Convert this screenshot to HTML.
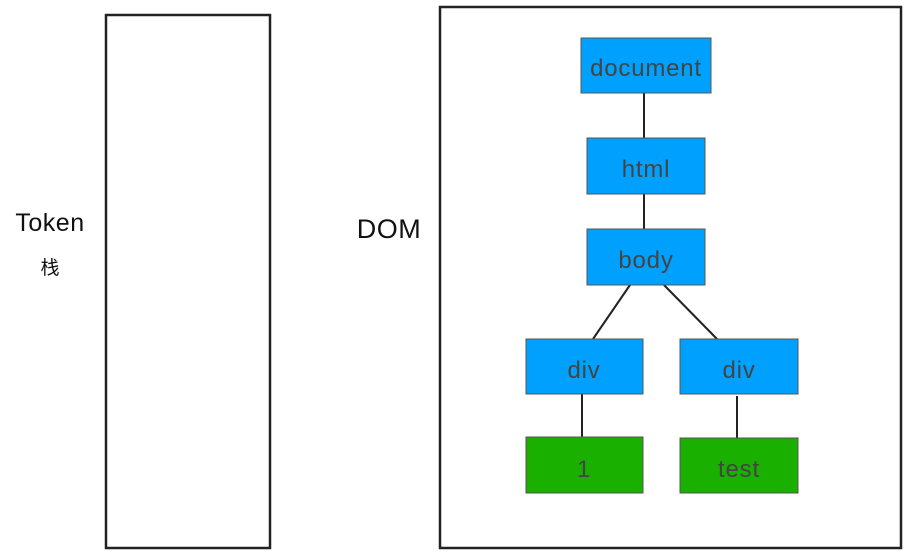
<!DOCTYPE html>
<html><head><meta charset="utf-8"><style>
html,body{margin:0;padding:0;background:#fff;width:915px;height:560px;overflow:hidden}
svg{display:block}
text{font-family:"Comic Sans MS","Liberation Sans","Noto Sans CJK SC",sans-serif}
</style></head><body>
<svg width="915" height="560" viewBox="0 0 915 560" xmlns="http://www.w3.org/2000/svg">
<rect x="106" y="15" width="164" height="533" fill="none" stroke="#222" stroke-width="2.5"/>
<rect x="440" y="7" width="461" height="541" fill="none" stroke="#222" stroke-width="2.5"/>
<text x="50" y="231" font-size="25" fill="#111" text-anchor="middle" letter-spacing="0.5">Token</text>
<text x="50" y="274" font-size="19" fill="#111" text-anchor="middle">栈</text>
<text x="389" y="238" font-size="27" fill="#111" text-anchor="middle" letter-spacing="0.5">DOM</text>
<g stroke="#222" stroke-width="2">
<line x1="644" y1="93" x2="644" y2="138"/>
<line x1="644" y1="194" x2="644" y2="229"/>
<line x1="630" y1="285" x2="593" y2="339"/>
<line x1="664" y1="285" x2="717" y2="339"/>
<line x1="582" y1="394" x2="582" y2="437"/>
<line x1="737" y1="396" x2="737" y2="438"/>
</g>
<g stroke="#555" stroke-width="1">
<rect x="581" y="38" width="130" height="55" fill="#00a0ff"/>
<rect x="587" y="138" width="118" height="56" fill="#00a0ff"/>
<rect x="587" y="229" width="118" height="56" fill="#00a0ff"/>
<rect x="526" y="339" width="117" height="55" fill="#00a0ff"/>
<rect x="680" y="339" width="118" height="55" fill="#00a0ff"/>
<rect x="526" y="437" width="117" height="56" fill="#19b000"/>
<rect x="680" y="438" width="118" height="55" fill="#19b000"/>
</g>
<g font-size="24" fill="#444" text-anchor="middle" letter-spacing="0.8">
<text x="646" y="76">document</text>
<text x="646" y="177">html</text>
<text x="646" y="268">body</text>
<text x="584" y="378">div</text>
<text x="739" y="378">div</text>
<text x="584" y="477">1</text>
<text x="739" y="477">test</text>
</g>
</svg>
</body></html>
